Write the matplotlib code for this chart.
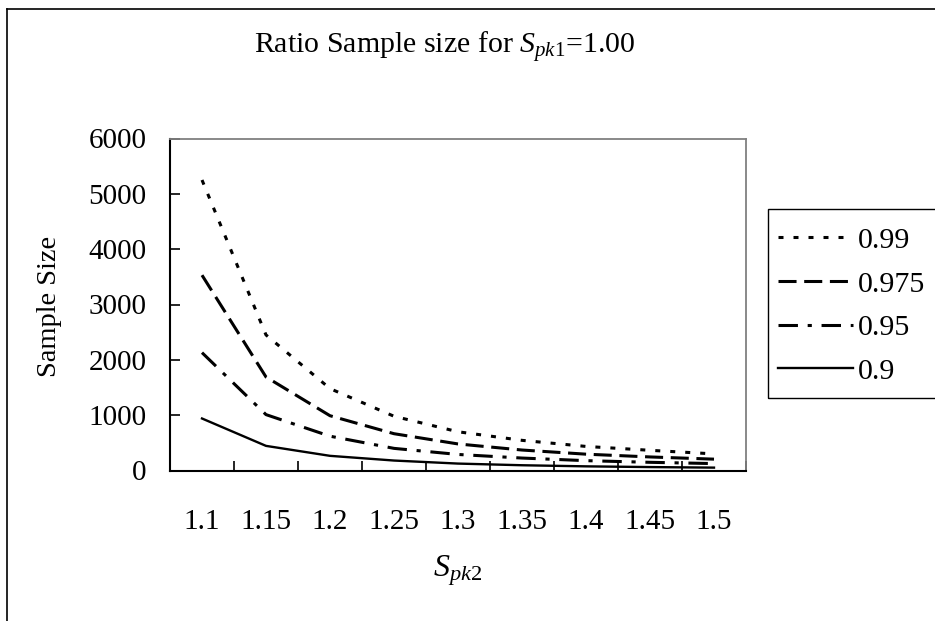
import matplotlib
matplotlib.use('Agg')
import matplotlib.pyplot as plt
from matplotlib.lines import Line2D
from matplotlib.patches import Rectangle
import numpy as np

plt.rcParams['font.family'] = ['Liberation Serif', 'DejaVu Serif']
plt.rcParams['mathtext.fontset'] = 'custom'
plt.rcParams['mathtext.rm'] = 'Liberation Serif'
plt.rcParams['mathtext.it'] = 'Liberation Serif:italic'
plt.rcParams['lines.scale_dashes'] = False

# ---- data ----
categories = ['1.1', '1.15', '1.2', '1.25', '1.3', '1.35', '1.4', '1.45', '1.5']
s_099 = [5250, 2450, 1480, 980, 700, 545, 435, 365, 300]
s_0975 = [3530, 1690, 990, 665, 480, 370, 295, 245, 205]
s_095 = [2130, 1010, 620, 400, 290, 225, 178, 148, 125]
s_090 = [940, 445, 265, 180, 125, 95, 75, 62, 52]
series_labels = ['0.99', '0.975', '0.95', '0.9']
y_ticks = [0, 1000, 2000, 3000, 4000, 5000, 6000]

W, H = 935, 621
fig = plt.figure(figsize=(W / 100, H / 100), dpi=100)
ax = fig.add_axes([170 / W, 1 - 470.5 / H, 576 / W, 332 / H])

x = np.arange(len(categories))
l1, = ax.plot(x, s_099, color='black', lw=2.2, dashes=(3.6, 7.2), label=series_labels[0])
l2, = ax.plot(x, s_0975, color='black', lw=2.2, dashes=(13, 5.5), label=series_labels[1])
l3, = ax.plot(x, s_095, color='black', lw=2.2, dashes=(14, 7, 3, 7), label=series_labels[2])
l4, = ax.plot(x, s_090, color='black', lw=1.7, label=series_labels[3])

ax.set_xlim(-0.5, len(categories) - 0.5)
ax.set_ylim(0, 6000)
ax.set_yticks(y_ticks)
ax.set_xticks(x)
ax.set_xticklabels(categories)
ax.set_xticks(np.arange(0.5, len(categories), 1), minor=True)
ax.tick_params(axis='x', which='major', length=0, pad=28, labelsize=21)
ax.tick_params(axis='x', which='minor', direction='in', length=7.5, width=1.2)
ax.tick_params(axis='y', direction='in', length=7.5, width=1.2, pad=17, labelsize=21)

for s in ['top', 'right']:
    ax.spines[s].set_color('#808080')
    ax.spines[s].set_linewidth(1.3)
for s in ['left', 'bottom']:
    ax.spines[s].set_color('black')
    ax.spines[s].set_linewidth(1.5)

fig.text(445 / W, 1 - 48 / H, r'Ratio Sample size for $S_{\mathit{pk1}}$=1.00',
         ha='center', va='center', fontsize=21.5)
fig.text(458 / W, 1 - 571 / H, r'$S_{\mathit{pk2}}$', ha='center', va='center', fontsize=23)
fig.text(50 / W, 1 - 306 / H, 'Sample Size', rotation=90, ha='center', va='center', fontsize=20.5)

# legend
fig.legend([l1, l2, l3, l4], series_labels, loc='upper left',
           bbox_to_anchor=(778 / W, 1 - 227 / H), frameon=False, borderpad=0,
           borderaxespad=0, handlelength=2.5, handletextpad=0.17,
           labelspacing=0.56, fontsize=21.5)
fig.add_artist(Rectangle((768 / W, 1 - 398 / H), (945 - 768) / W, (398 - 209) / H,
                         transform=fig.transFigure, fill=False, ec='black', lw=1.0,
                         clip_on=False))

# chart area border (left and top edges visible)
fig.add_artist(Line2D([7 / W, 7 / W], [-0.01, 1 - 9 / H], transform=fig.transFigure,
                      color='black', lw=1.2))
fig.add_artist(Line2D([7 / W, 1.01], [1 - 9 / H, 1 - 9 / H], transform=fig.transFigure,
                      color='black', lw=1.2))

fig.savefig('out.png', dpi=100)
